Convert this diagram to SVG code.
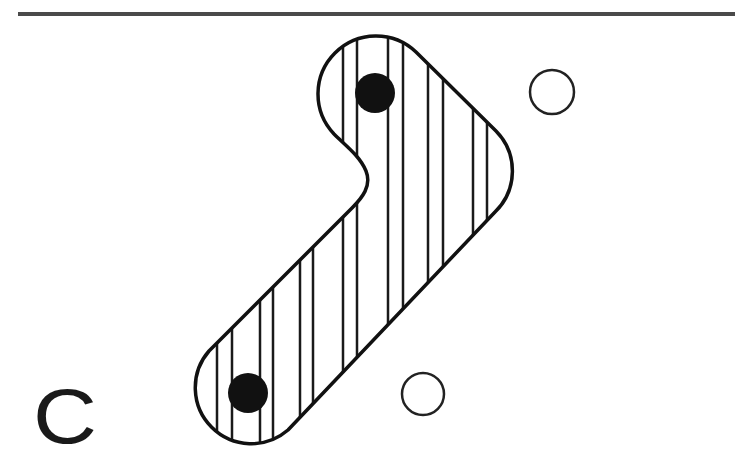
<svg xmlns="http://www.w3.org/2000/svg" width="735" height="459" viewBox="0 0 735 459">
<style>
.outline{fill:none;stroke:#111;stroke-width:3.5;stroke-linejoin:round}
.hatch{stroke:#1a1a1a;stroke-width:2.5}
.dot{fill:#111}
.ring{fill:none;stroke:#222;stroke-width:2.5}
.lbl{font-family:"Liberation Sans",Arial,sans-serif;font-size:77px;fill:#1a1a1a}
</style>
<defs>
<path id="blob" d="M 416 52 L 496 131 A 57 57 0 0 1 495 212 L 288 430 A 56 56 0 0 1 209 351 L 352 208 C 362 198 372 186 366 171 C 360 156 345 145 334 134 A 58 58 0 0 1 416 52 Z"/>
<clipPath id="clip"><use href="#blob"/></clipPath>
</defs>
<rect width="735" height="459" fill="#fff"/>
<line x1="18" y1="14" x2="735" y2="14" stroke="#4a4a4a" stroke-width="4"/>
<g id="shape">
<g clip-path="url(#clip)" class="hatch">
<line x1="217" y1="0" x2="217" y2="459"/>
<line x1="232" y1="0" x2="232" y2="459"/>
<line x1="260" y1="0" x2="260" y2="459"/>
<line x1="273" y1="0" x2="273" y2="459"/>
<line x1="300" y1="0" x2="300" y2="459"/>
<line x1="313" y1="0" x2="313" y2="459"/>
<line x1="343" y1="0" x2="343" y2="459"/>
<line x1="357" y1="0" x2="357" y2="459"/>
<line x1="388" y1="0" x2="388" y2="459"/>
<line x1="403" y1="0" x2="403" y2="459"/>
<line x1="428" y1="0" x2="428" y2="459"/>
<line x1="443" y1="0" x2="443" y2="459"/>
<line x1="473" y1="0" x2="473" y2="459"/>
<line x1="487" y1="0" x2="487" y2="459"/>
</g>
<use href="#blob" class="outline"/>
</g>
<g id="dot-top"><circle class="dot" cx="375" cy="93" r="20"/></g>
<g id="dot-bottom"><circle class="dot" cx="248" cy="393" r="20"/></g>
<g id="ring-top"><circle class="ring" cx="552" cy="92" r="22"/></g>
<g id="ring-bottom"><circle class="ring" cx="423" cy="394" r="21"/></g>
<g id="label"><text class="lbl" transform="translate(33,443) scale(1.15,1)">C</text></g>
<g id="connectors"/>
</svg>
